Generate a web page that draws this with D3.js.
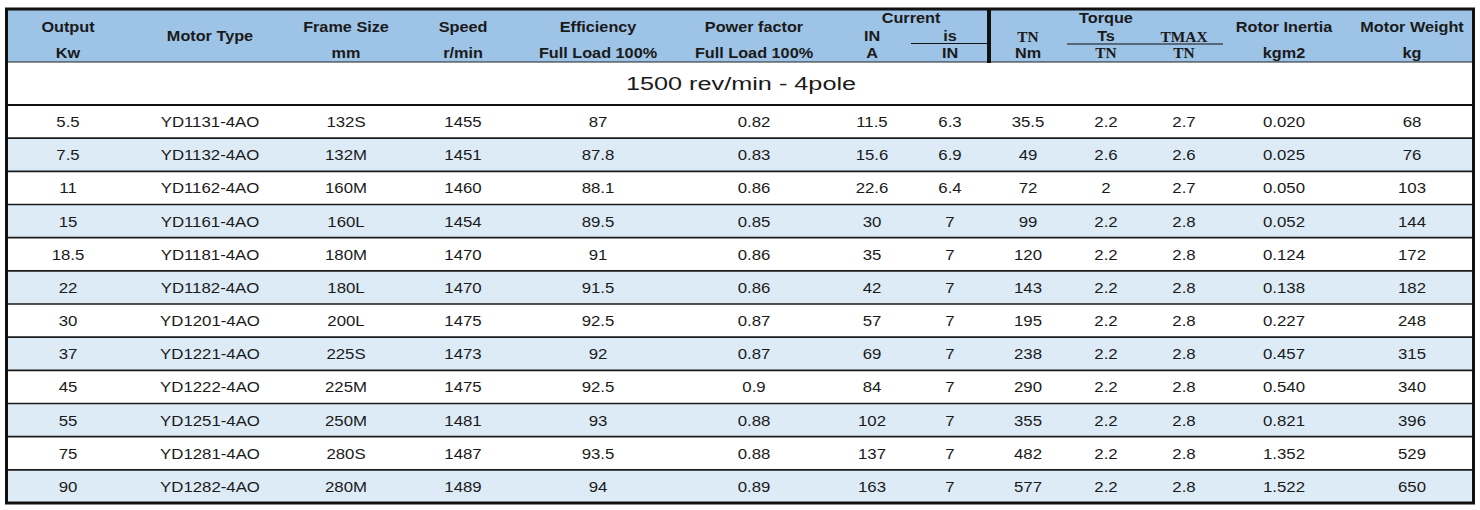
<!DOCTYPE html>
<html><head><meta charset="utf-8">
<script src="https://cdn.jsdelivr.net/npm/d3@7"></script>
<style>html,body{margin:0;padding:0;background:#fff;}svg{display:block;}</style>
</head><body>
<script>
const output = ["5.5","7.5","11","15","18.5","22","30","37","45","55","75","90"];
const motorType = ["YD1131-4AO","YD1132-4AO","YD1162-4AO","YD1161-4AO","YD1181-4AO","YD1182-4AO","YD1201-4AO","YD1221-4AO","YD1222-4AO","YD1251-4AO","YD1281-4AO","YD1282-4AO"];
const frameSize = ["132S","132M","160M","160L","180M","180L","200L","225S","225M","250M","280S","280M"];
const speed = ["1455","1451","1460","1454","1470","1470","1475","1473","1475","1481","1487","1489"];
const efficiency = ["87","87.8","88.1","89.5","91","91.5","92.5","92","92.5","93","93.5","94"];
const powerFactor = ["0.82","0.83","0.86","0.85","0.86","0.86","0.87","0.87","0.9","0.88","0.88","0.89"];
const currentIN = ["11.5","15.6","22.6","30","35","42","57","69","84","102","137","163"];
const isRatio = ["6.3","6.9","6.4","7","7","7","7","7","7","7","7","7"];
const torqueTN = ["35.5","49","72","99","120","143","195","238","290","355","482","577"];
const tsRatio = ["2.2","2.6","2","2.2","2.2","2.2","2.2","2.2","2.2","2.2","2.2","2.2"];
const tmaxRatio = ["2.7","2.6","2.7","2.8","2.8","2.8","2.8","2.8","2.8","2.8","2.8","2.8"];
const rotorInertia = ["0.020","0.025","0.050","0.052","0.124","0.138","0.227","0.457","0.540","0.821","1.352","1.522"];
const motorWeight = ["68","76","103","144","172","182","248","315","340","396","529","650"];
const subtitle = "1500 rev/min - 4pole";

const columns = ["output","motorType","frameSize","speed","efficiency","powerFactor","currentIN","isRatio","torqueTN","tsRatio","tmaxRatio","rotorInertia","motorWeight"];
const series = {output,motorType,frameSize,speed,efficiency,powerFactor,currentIN,isRatio,torqueTN,tsRatio,tmaxRatio,rotorInertia,motorWeight};

const W = 1480, H = 510;
const svg = d3.select("body").append("svg").attr("width", W).attr("height", H);

const xL = 6.5, xR = 1473.5, yT = 9, headerBottom = 62, subBottom = 105, yB = 503;
const x = d3.scaleOrdinal().domain(columns).range([68,210,346,463,598,754,872,950,1028,1106,1184,1284,1412]);
const y = d3.scaleBand().domain(d3.range(output.length)).range([subBottom, yB]);

// header background
svg.append("rect").attr("x", xL).attr("y", yT).attr("width", xR-xL).attr("height", headerBottom-yT).attr("fill", "#9dc3e6");
// rows
svg.selectAll("rect.row").data(d3.range(output.length)).join("rect").attr("class","row")
  .attr("x", xL).attr("y", i => y(i)).attr("width", xR-xL).attr("height", y.bandwidth())
  .attr("fill", i => i % 2 ? "#ddebf7" : "#ffffff");

// row lines
svg.selectAll("line.rl").data(d3.range(1, output.length)).join("line").attr("class","rl")
  .attr("x1", xL).attr("x2", xR).attr("y1", i => y(i)).attr("y2", i => y(i))
  .attr("stroke", "#1a1a1a").attr("stroke-width", 1.6);
svg.append("line").attr("x1", xL).attr("x2", xR).attr("y1", subBottom).attr("y2", subBottom).attr("stroke","#111").attr("stroke-width",2);
svg.append("line").attr("x1", xL).attr("x2", xR).attr("y1", headerBottom).attr("y2", headerBottom).attr("stroke","#222").attr("stroke-width",1.2);

// header divider
svg.append("line").attr("x1", 989).attr("x2", 989).attr("y1", yT).attr("y2", headerBottom+1).attr("stroke","#111").attr("stroke-width",4);
// small rule lines in header
svg.append("line").attr("x1", 911).attr("x2", 987).attr("y1", 43.5).attr("y2", 43.5).attr("stroke","#111").attr("stroke-width",1.2);
svg.append("line").attr("x1", 1067).attr("x2", 1223).attr("y1", 44).attr("y2", 44).attr("stroke","#111").attr("stroke-width",1.2);

// outer border
svg.append("rect").attr("x", xL).attr("y", yT).attr("width", xR-xL).attr("height", yB-yT)
  .attr("fill","none").attr("stroke","#111").attr("stroke-width",3);

function txt(s, cx, cy, opts) {
  const o = Object.assign({size:14, weight:"normal", family:"'Liberation Sans', Arial, sans-serif", sx:1.18, color:"#1a1a1a"}, opts||{});
  svg.append("text")
    .attr("transform", `translate(${cx},${cy}) scale(${o.sx},1)`)
    .attr("text-anchor","middle").attr("dy","0.36em")
    .attr("font-family", o.family).attr("font-size", o.size).attr("font-weight", o.weight)
    .attr("fill", o.color).text(s);
}

const H1 = {size:14, weight:"bold", sx:1.16};
const SER = {size:14, weight:"bold", family:"'Liberation Serif','Times New Roman',serif", sx:1.1};
// header texts
txt("Output", x("output"), 27, H1); txt("Kw", x("output"), 53, H1);
txt("Motor Type", x("motorType"), 36, H1);
txt("Frame Size", x("frameSize"), 27, H1); txt("mm", x("frameSize"), 53, H1);
txt("Speed", x("speed"), 27, H1); txt("r/min", x("speed"), 53, H1);
txt("Efficiency", x("efficiency"), 27, H1); txt("Full Load 100%", x("efficiency"), 53, H1);
txt("Power factor", x("powerFactor"), 27, H1); txt("Full Load 100%", x("powerFactor"), 53, H1);
txt("Current", 911, 18, H1);
txt("IN", x("currentIN"), 36, H1); txt("A", x("currentIN"), 53, H1);
txt("is", x("isRatio"), 36, H1); txt("IN", x("isRatio"), 53, H1);
txt("Torque", 1106, 18, H1);
txt("TN", x("torqueTN"), 37, SER); txt("Nm", x("torqueTN"), 53, H1);
txt("Ts", x("tsRatio"), 36, H1); txt("TN", x("tsRatio"), 53, SER);
txt("TMAX", x("tmaxRatio"), 37, SER); txt("TN", x("tmaxRatio"), 53, SER);
txt("Rotor Inertia", x("rotorInertia"), 27, H1); txt("kgm2", x("rotorInertia"), 53, H1);
txt("Motor Weight", x("motorWeight"), 27, H1); txt("kg", x("motorWeight"), 53, H1);

// subtitle
txt(subtitle, (xL+xR)/2 + 1, (headerBottom+subBottom)/2, {size:19, sx:1.33});

// body
columns.forEach(c => {
  series[c].forEach((v, i) => {
    txt(v, x(c), y(i) + y.bandwidth()/2 + 0.5, {size:14, sx:1.2});
  });
});
</script>
</body></html>
